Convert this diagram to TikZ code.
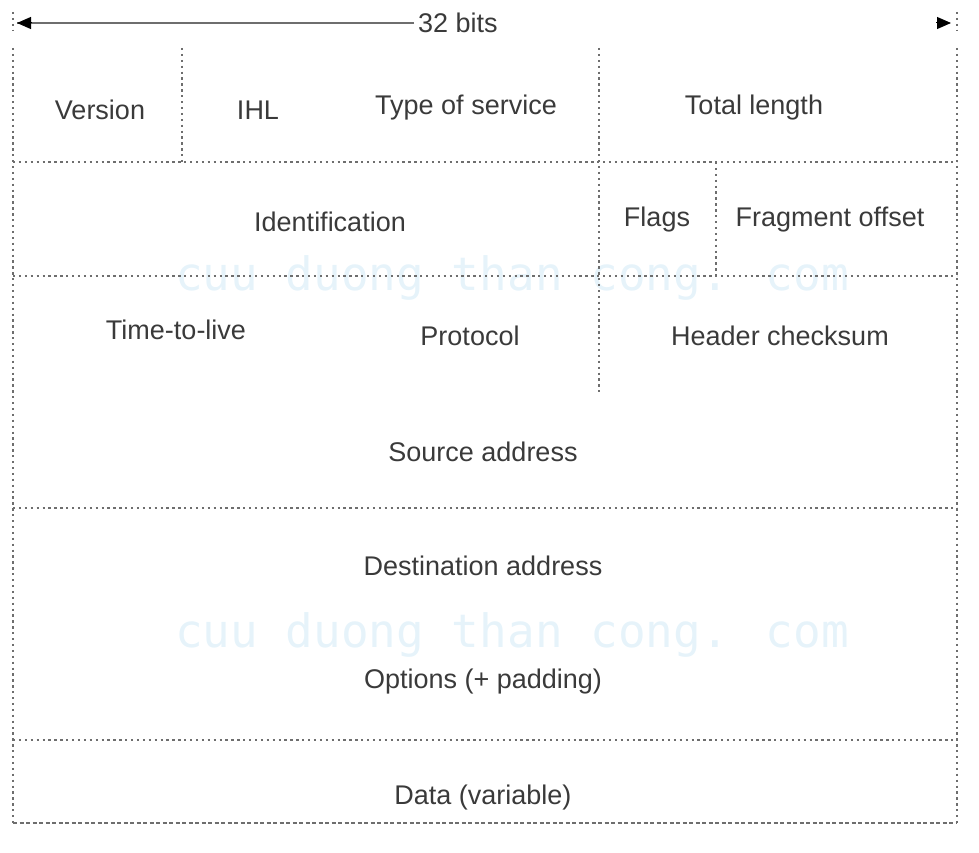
\documentclass[tikz,border=0pt]{standalone}
\usepackage{fontspec}
\setmainfont{Liberation Sans}
\newfontfamily\wmfont{DejaVu Sans Mono}
\usetikzlibrary{arrows.meta}
\definecolor{linegray}{HTML}{6E6E6E}
\definecolor{txtgray}{HTML}{3A3A3A}
\definecolor{wmblue}{HTML}{E6F3FA}
\begin{document}
\begin{tikzpicture}[x=1pt,y=-1pt,
  dotline/.style={draw=linegray,line width=2.3pt,dash pattern=on 2.3pt off 3.6pt},
  dashline/.style={draw=linegray,line width=2.3pt,dash pattern=on 4pt off 2.5pt},
  field/.style={font=\fontsize{27}{30}\selectfont,text=txtgray,inner sep=0pt},
  wm/.style={font=\wmfont\fontsize{46}{50}\selectfont,text=wmblue,inner sep=0pt},
  dimline/.style={draw=linegray,line width=2pt},
  tipline/.style={-{Triangle[length=14pt,width=12pt]},black,line width=1pt}
]
\useasboundingbox (0,0) rectangle (979,853);
% watermark
\node[wm] (wm1) at (512,278) {cuu duong than cong. com};
\node[wm] (wm2) at (512,635) {cuu duong than cong. com};
% grid coordinates
\coordinate (tl) at (13,48);
\coordinate (tr) at (957,48);
\coordinate (bl) at (13,823);
\coordinate (br) at (957,823);
\coordinate (l1) at (13,162);  \coordinate (r1) at (957,162);
\coordinate (l2) at (13,276);  \coordinate (r2) at (957,276);
\coordinate (l3) at (13,508);  \coordinate (r3) at (957,508);
\coordinate (l4) at (13,740);  \coordinate (r4) at (957,740);
\coordinate (v1t) at (182,48); \coordinate (v1b) at (182,162);
\coordinate (v2t) at (599,48); \coordinate (v2b) at (599,392);
\coordinate (v3t) at (716,162); \coordinate (v3b) at (716,276);
% ticks for the width arrow
\coordinate (tickLt) at (13,12); \coordinate (tickLb) at (13,30);
\coordinate (tickRt) at (957,12); \coordinate (tickRb) at (957,30);
% outer box
\draw[dotline] (tl) -- (bl);
\draw[dotline] (tr) -- (br);
\draw[dashline] (bl) -- (br);
% horizontal separators
\draw[dotline] (l1) -- (r1);
\draw[dotline] (l2) -- (r2);
\draw[dotline] (l3) -- (r3);
\draw[dotline] (l4) -- (r4);
% vertical separators
\draw[dotline] (v1t) -- (v1b);
\draw[dotline] (v2t) -- (v2b);
\draw[dotline] (v3t) -- (v3b);
% width indicator
\draw[dotline] (tickLt) -- (tickLb);
\draw[dotline] (tickRt) -- (tickRb);
\node[field] (bits) at (458,23) {32 bits};
\coordinate (arrL) at (17,23);
\coordinate (arrLs) at (32,23);
\coordinate (arrRs) at (936,23);
\coordinate (arrR) at (951,23);
\draw[dimline] (bits.west) ++(-4,0) coordinate (bitsW) -- (arrL);
\draw[tipline] (arrLs) -- (arrL);
\draw[tipline] (arrRs) -- (arrR);
% fields
\node[field] (version) at (100,110) {Version};
\node[field] (ihl) at (258,110) {IHL};
\node[field] (tos) at (466,108) {Type of service};
\node[field] (tlen) at (754,108) {Total length};
\node[field] (ident) at (330,222) {Identification};
\node[field] (flags) at (657,220) {Flags};
\node[field] (frag) at (830,220) {Fragment offset};
\node[field] (ttl) at (176,330) {Time-to-live};
\node[field] (proto) at (470,336) {Protocol};
\node[field] (hcs) at (780,336) {Header checksum};
\node[field] (src) at (483,452) {Source address};
\node[field] (dst) at (483,566) {Destination address};
\node[field] (opt) at (483,682) {Options (+ padding)};
\node[field] (data) at (483,798) {Data (variable)};
\end{tikzpicture}
\end{document}
